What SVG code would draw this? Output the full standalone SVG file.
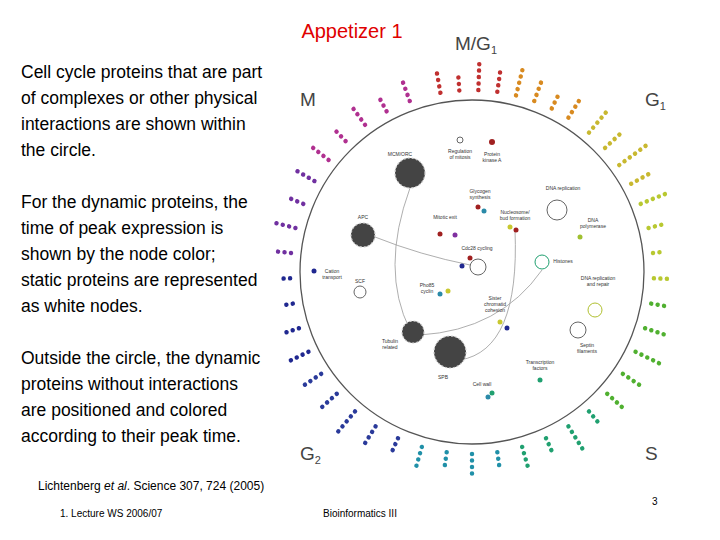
<svg xmlns="http://www.w3.org/2000/svg" width="720" height="540" viewBox="0 0 720 540">
<style>
.t{font-family:"Liberation Sans",Arial,sans-serif;font-size:17.5px;fill:#000}
.ph{font-family:"Liberation Sans",Arial,sans-serif;font-size:19px;fill:#444}
.lb{font-family:"Liberation Sans",Arial,sans-serif;font-size:5px;fill:#333;text-anchor:middle}
.cl{fill:#444;stroke:#ccc;stroke-width:1.2;stroke-dasharray:2 2}
.ray{stroke-width:4.5;stroke-linecap:round;stroke-dasharray:0 6.5;fill:none}
.e{fill:none;stroke:#999;stroke-width:0.8}
</style>
<rect width="720" height="540" fill="#fff"/>
<text x="352" y="38" text-anchor="middle" style="font-family:'Liberation Sans',Arial,sans-serif;font-size:20px;fill:#e00000">Appetizer 1</text>
<g id="text">
<text class="t" x="21" y="78">Cell cycle proteins that are part</text>
<text class="t" x="21" y="104">of complexes or other physical</text>
<text class="t" x="21" y="130">interactions are shown within</text>
<text class="t" x="21" y="156">the circle.</text>
<text class="t" x="21" y="208">For the dynamic proteins, the</text>
<text class="t" x="21" y="234">time of peak expression is</text>
<text class="t" x="21" y="260">shown by the node color;</text>
<text class="t" x="21" y="286">static proteins are represented</text>
<text class="t" x="21" y="312">as white nodes.</text>
<text class="t" x="21" y="364">Outside the circle, the dynamic</text>
<text class="t" x="21" y="390">proteins without interactions</text>
<text class="t" x="21" y="416">are positioned and colored</text>
<text class="t" x="21" y="442">according to their peak time.</text>
<text x="38" y="490" style="font-family:'Liberation Sans',Arial,sans-serif;font-size:12px">Lichtenberg <tspan font-style="italic">et al</tspan>. Science 307, 724 (2005)</text>
<text x="60" y="517" style="font-family:'Liberation Sans',Arial,sans-serif;font-size:10px">1. Lecture WS 2006/07</text>
<text x="323" y="517" style="font-family:'Liberation Sans',Arial,sans-serif;font-size:10px">Bioinformatics III</text>
<text x="652" y="505" style="font-family:'Liberation Sans',Arial,sans-serif;font-size:10px">3</text>
</g>
<g id="phases">
<text class="ph" x="455" y="50">M/G<tspan font-size="11" dy="4">1</tspan></text>
<text class="ph" x="300" y="106">M</text>
<text class="ph" x="645" y="106">G<tspan font-size="11" dy="4">1</tspan></text>
<text class="ph" x="300" y="460">G<tspan font-size="11" dy="4">2</tspan></text>
<text class="ph" x="645" y="460">S</text>
</g>
<circle cx="472" cy="272" r="172" fill="none" stroke="#555" stroke-width="1.3"/>
<g id="rays" transform="translate(472 272)">
<g class="ray" stroke="#c03030"><line x1="0" y1="-182" x2="0" y2="-205" transform="rotate(-10)"/><line x1="0" y1="-182" x2="0" y2="-200" transform="rotate(-4)"/><line x1="0" y1="-182" x2="0" y2="-212" transform="rotate(2)"/><line x1="0" y1="-182" x2="0" y2="-205" transform="rotate(8)"/></g>
<g class="ray" stroke="#d88a20"><line x1="0" y1="-182" x2="0" y2="-212" transform="rotate(14)"/><line x1="0" y1="-182" x2="0" y2="-205" transform="rotate(20)"/><line x1="0" y1="-182" x2="0" y2="-198" transform="rotate(26)"/><line x1="0" y1="-182" x2="0" y2="-208" transform="rotate(32)"/></g>
<g class="ray" stroke="#c8b830"><line x1="0" y1="-182" x2="0" y2="-212" transform="rotate(40)"/><line x1="0" y1="-182" x2="0" y2="-208" transform="rotate(47)"/><line x1="0" y1="-182" x2="0" y2="-215" transform="rotate(54)"/><line x1="0" y1="-182" x2="0" y2="-205" transform="rotate(61)"/></g>
<g class="ray" stroke="#b8c830"><line x1="0" y1="-182" x2="0" y2="-212" transform="rotate(68)"/><line x1="0" y1="-182" x2="0" y2="-200" transform="rotate(76)"/><line x1="0" y1="-182" x2="0" y2="-195" transform="rotate(84)"/><line x1="0" y1="-182" x2="0" y2="-198" transform="rotate(92)"/></g>
<g class="ray" stroke="#50b030"><line x1="0" y1="-182" x2="0" y2="-200" transform="rotate(100)"/><line x1="0" y1="-182" x2="0" y2="-208" transform="rotate(108)"/><line x1="0" y1="-182" x2="0" y2="-212" transform="rotate(116)"/><line x1="0" y1="-182" x2="0" y2="-205" transform="rotate(124)"/><line x1="0" y1="-182" x2="0" y2="-208" transform="rotate(132)"/></g>
<g class="ray" stroke="#20a070"><line x1="0" y1="-182" x2="0" y2="-200" transform="rotate(140)"/><line x1="0" y1="-182" x2="0" y2="-210" transform="rotate(148)"/><line x1="0" y1="-182" x2="0" y2="-198" transform="rotate(156)"/><line x1="0" y1="-182" x2="0" y2="-205" transform="rotate(164)"/></g>
<g class="ray" stroke="#2090a8"><line x1="0" y1="-182" x2="0" y2="-200" transform="rotate(172)"/><line x1="0" y1="-182" x2="0" y2="-208" transform="rotate(180)"/><line x1="0" y1="-182" x2="0" y2="-198" transform="rotate(188)"/><line x1="0" y1="-182" x2="0" y2="-205" transform="rotate(196)"/></g>
<g class="ray" stroke="#2a3a9a"><line x1="0" y1="-182" x2="0" y2="-200" transform="rotate(204)"/><line x1="0" y1="-182" x2="0" y2="-208" transform="rotate(212)"/><line x1="0" y1="-182" x2="0" y2="-212" transform="rotate(220)"/><line x1="0" y1="-182" x2="0" y2="-205" transform="rotate(228)"/><line x1="0" y1="-182" x2="0" y2="-208" transform="rotate(236)"/></g>
<g class="ray" stroke="#202890"><line x1="0" y1="-182" x2="0" y2="-202" transform="rotate(244)"/><line x1="0" y1="-182" x2="0" y2="-198" transform="rotate(252)"/><line x1="0" y1="-182" x2="0" y2="-192" transform="rotate(260)"/><line x1="0" y1="-182" x2="0" y2="-195" transform="rotate(268)"/></g>
<g class="ray" stroke="#7030a0"><line x1="0" y1="-182" x2="0" y2="-198" transform="rotate(276)"/><line x1="0" y1="-182" x2="0" y2="-205" transform="rotate(284)"/><line x1="0" y1="-182" x2="0" y2="-200" transform="rotate(292)"/><line x1="0" y1="-182" x2="0" y2="-208" transform="rotate(300)"/></g>
<g class="ray" stroke="#b03090"><line x1="0" y1="-182" x2="0" y2="-205" transform="rotate(308)"/><line x1="0" y1="-182" x2="0" y2="-198" transform="rotate(316)"/><line x1="0" y1="-182" x2="0" y2="-205" transform="rotate(324)"/><line x1="0" y1="-182" x2="0" y2="-198" transform="rotate(332)"/><line x1="0" y1="-182" x2="0" y2="-205" transform="rotate(340)"/></g>
</g>
<g id="connectors">
<path class="e" d="M410 188 Q380 270 410 330"/>
<path class="e" d="M375 237 Q420 255 470 265"/>
<path class="e" d="M420 335 Q500 330 542 270"/>
<path class="e" d="M460 360 Q520 350 515 230"/>
</g>
<g id="mcm"><circle class="cl" cx="410" cy="173" r="15"/><text class="lb" x="400" y="156">MCM/ORC</text></g>
<g id="regmit"><circle cx="460" cy="140" r="3" fill="#fff" stroke="#666"/><text class="lb" x="460" y="153">Regulation</text><text class="lb" x="460" y="159">of mitosis</text></g>
<g id="pka"><circle cx="492" cy="142" r="3" fill="#a02020"/><text class="lb" x="492" y="156">Protein</text><text class="lb" x="492" y="162">kinase A</text></g>
<g id="gly"><text class="lb" x="480" y="193">Glycogen</text><text class="lb" x="480" y="199">synthesis</text><circle cx="478" cy="207" r="2.5" fill="#a02020"/><circle cx="484" cy="211" r="2.5" fill="#2a8aa8"/></g>
<g id="mitexit"><text class="lb" x="445" y="219">Mitotic exit</text><circle cx="440" cy="234" r="2.5" fill="#a02020"/><circle cx="455" cy="235" r="2.5" fill="#8030a0"/></g>
<g id="nuc"><text class="lb" x="515" y="214">Nucleosome/</text><text class="lb" x="515" y="220">bud formation</text><circle cx="510" cy="227" r="2.5" fill="#c8c830"/><circle cx="516" cy="230" r="2.5" fill="#a02020"/></g>
<g id="dnarep"><text class="lb" x="563" y="190">DNA replication</text><circle cx="557" cy="210" r="10" fill="#fff" stroke="#666"/></g>
<g id="dnapol"><text class="lb" x="593" y="222">DNA</text><text class="lb" x="593" y="228">polymerase</text><circle cx="580" cy="237" r="2.5" fill="#a0c030"/></g>
<g id="apc"><text class="lb" x="363" y="219">APC</text><circle class="cl" cx="363" cy="235" r="12"/></g>
<g id="cdc"><text class="lb" x="477" y="250">Cdc28 cycling</text><circle cx="478" cy="267" r="8" fill="none" stroke="#666"/><circle cx="462" cy="266" r="2.5" fill="#202890"/><circle cx="470" cy="258" r="2.5" fill="#a02020"/></g>
<g id="hist"><text class="lb" x="563" y="263">Histones</text><circle cx="542" cy="262" r="7" fill="#fff" stroke="#20a070"/></g>
<g id="cation"><text class="lb" x="332" y="273">Cation</text><text class="lb" x="332" y="279">transport</text><circle cx="314" cy="271" r="2.5" fill="#202890"/></g>
<g id="scf"><text class="lb" x="360" y="283">SCF</text><circle cx="360" cy="292" r="6" fill="#fff" stroke="#666"/></g>
<g id="pho"><text class="lb" x="427" y="287">Pho85</text><text class="lb" x="427" y="293">cyclin</text><circle cx="440" cy="294" r="2.5" fill="#2a8aa8"/><circle cx="448" cy="291" r="2.5" fill="#c8c830"/></g>
<g id="sister"><text class="lb" x="495" y="300">Sister</text><text class="lb" x="495" y="306">chromatid</text><text class="lb" x="495" y="312">cohesion</text><circle cx="500" cy="322" r="2.5" fill="#c8c830"/><circle cx="507" cy="328" r="2.5" fill="#202890"/></g>
<g id="dnarr"><text class="lb" x="598" y="280">DNA replication</text><text class="lb" x="598" y="286">and repair</text></g>
<g id="tub"><text class="lb" x="390" y="343">Tubulin</text><text class="lb" x="390" y="349">related</text><circle class="cl" cx="413" cy="332" r="11"/></g>
<g id="spb"><text class="lb" x="443" y="379">SPB</text><circle class="cl" cx="450" cy="352" r="16"/></g>
<g id="sept"><text class="lb" x="587" y="347">Septin</text><text class="lb" x="587" y="353">filaments</text><circle cx="578" cy="330" r="8" fill="#fff" stroke="#666"/><circle cx="595" cy="310" r="7" fill="#fff" stroke="#b0c030"/></g>
<g id="tf"><text class="lb" x="540" y="364">Transcription</text><text class="lb" x="540" y="370">factors</text><circle cx="540" cy="380" r="2.5" fill="#20a070"/></g>
<g id="cw"><text class="lb" x="482" y="386">Cell wall</text><circle cx="492" cy="393" r="2.5" fill="#20a070"/><circle cx="488" cy="397" r="2.5" fill="#2a8aa8"/></g>
</svg>
